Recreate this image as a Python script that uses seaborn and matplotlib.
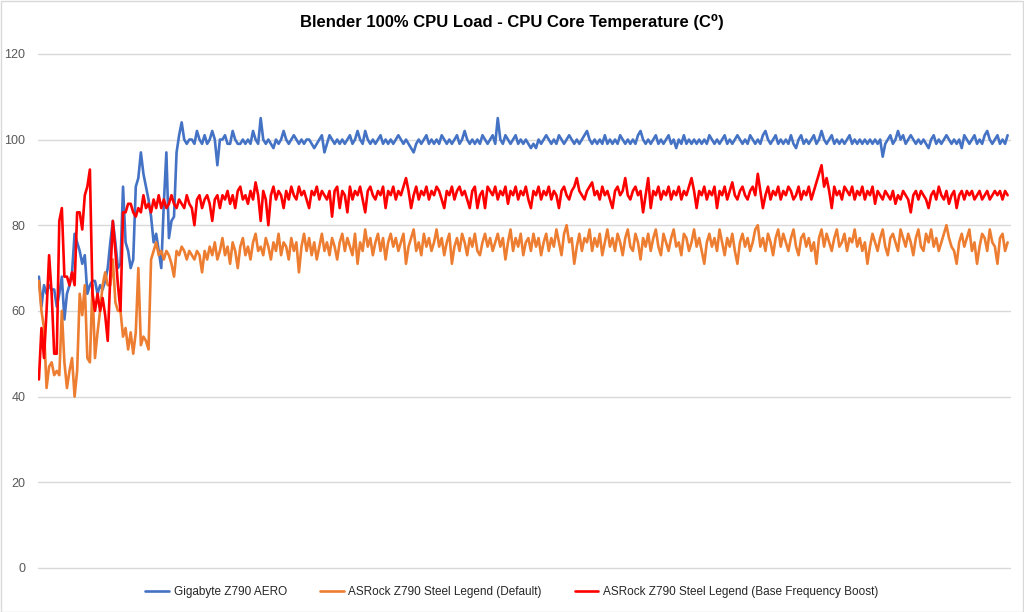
import numpy as np
import pandas as pd
import seaborn as sns
import matplotlib.pyplot as plt
from matplotlib.patches import Rectangle

# CPU core temperature readings (C), one per sample
gigabyte_aero = [
    68, 61, 66, 64, 66, 65, 65, 61, 64, 68,
    58, 64, 66, 69, 78, 76, 74, 71, 73, 64,
    66, 67, 67, 64, 66, 65, 67, 70, 76, 81,
    76, 70, 71, 89, 76, 74, 70, 72, 89, 91,
    97, 92, 89, 86, 82, 76, 78, 74, 70, 85,
    97, 77, 81, 82, 97, 101, 104, 100, 99, 100,
    100, 99, 102, 100, 99, 101, 99, 100, 102, 100, 94, 100, 100, 101, 99, 99, 102, 100, 99, 99,
    100, 99, 100, 99, 102, 100, 99, 105, 100, 99, 100, 99, 98, 100, 99, 100, 102, 100, 99, 100,
    101, 100, 99, 100, 99, 100, 100, 99, 98, 99, 100, 101, 97, 99, 101, 100, 99, 100, 99, 100,
    99, 100, 101, 99, 100, 102, 100, 99, 102, 100, 99, 100, 99, 100, 101, 99, 100, 99, 100, 99,
    100, 101, 100, 99, 100, 99, 98, 97, 99, 100, 99, 100, 101, 99, 100, 99, 100, 99, 101, 100,
    99, 100, 99, 100, 101, 99, 100, 102, 100, 99, 100, 99, 100, 99, 101, 100, 99, 100, 101, 99,
    105, 100, 99, 101, 100, 99, 100, 101, 99, 100, 99, 100, 99, 98, 99, 98, 100, 99, 100, 101,
    100, 99, 100, 99, 101, 100, 99, 100, 101, 100, 99, 100, 99, 100, 101, 102, 100, 99, 100, 99,
    100, 99, 101, 99, 100, 99, 100, 99, 101, 100, 99, 100, 99, 100, 99, 101, 102, 100, 99, 100,
    99, 100, 101, 99, 100, 99, 100, 101, 99, 100, 98, 100, 99, 101, 99, 100, 99, 100, 99, 100,
    99, 100, 99, 101, 100, 99, 100, 99, 100, 101, 99, 100, 99, 100, 101, 100, 99, 100, 99, 101,
    100, 99, 100, 99, 101, 102, 100, 99, 100, 101, 99, 100, 99, 100, 99, 101, 99, 98, 100, 101,
    99, 100, 99, 100, 101, 99, 100, 102, 100, 99, 100, 101, 99, 100, 99, 100, 99, 100, 101, 99,
    100, 99, 100, 99, 100, 99, 100, 99, 100, 99, 100, 96, 99, 100, 101, 99, 100, 102, 100, 101,
    99, 100, 101, 100, 99, 100, 99, 100, 99, 98, 100, 101, 99, 100, 99, 100, 101, 100, 99, 100,
    99, 100, 98, 101, 100, 99, 100, 101, 99, 100, 99, 101, 102, 100, 99, 100, 101, 99, 100, 99, 101,
]

asrock_default = [
    67, 60, 56, 42, 47, 48, 45, 46, 45, 60,
    48, 42, 46, 49, 40, 46, 64, 59, 66, 49,
    48, 66, 49, 55, 60, 66, 69, 66, 66, 72,
    62, 60, 60, 54, 56, 51, 55, 50, 55, 70,
    52, 54, 53, 51, 72, 74, 76, 73, 74, 72,
    74, 73, 71, 68, 74, 73, 75, 74, 72, 74,
    73, 72, 74, 73, 69, 74, 72, 75, 73, 76, 72, 74, 77, 73, 75, 71, 76, 74, 70, 75,
    77, 73, 75, 72, 76, 78, 74, 75, 73, 77, 75, 72, 76, 74, 78, 73, 76, 75, 72, 77,
    74, 76, 69, 75, 78, 74, 77, 73, 76, 72, 75, 78, 74, 76, 73, 77, 75, 72, 76, 78,
    74, 77, 75, 73, 78, 71, 76, 74, 79, 75, 77, 73, 76, 78, 74, 77, 72, 76, 78, 75,
    77, 74, 76, 78, 71, 75, 77, 79, 74, 76, 73, 78, 75, 77, 74, 76, 79, 75, 77, 73,
    76, 78, 71, 75, 77, 74, 78, 76, 73, 77, 75, 78, 74, 73, 76, 78, 75, 77, 74, 76,
    78, 75, 77, 72, 76, 79, 74, 77, 75, 78, 73, 76, 77, 74, 78, 75, 77, 73, 76, 78,
    74, 77, 75, 79, 76, 73, 78, 80, 76, 77, 71, 75, 78, 74, 77, 76, 79, 74, 77, 75,
    78, 73, 76, 79, 75, 77, 74, 78, 76, 73, 77, 79, 75, 74, 78, 76, 72, 77, 75, 78,
    74, 77, 79, 75, 73, 78, 76, 74, 77, 79, 75, 76, 73, 78, 77, 74, 76, 79, 75, 77,
    74, 71, 76, 78, 75, 77, 74, 79, 76, 73, 77, 75, 78, 74, 71, 76, 78, 75, 77, 74,
    76, 79, 80, 75, 77, 74, 78, 76, 73, 77, 79, 75, 78, 76, 74, 77, 79, 75, 73, 77,
    78, 75, 77, 74, 76, 71, 77, 79, 75, 78, 76, 74, 77, 79, 75, 76, 78, 74, 77, 76,
    79, 75, 77, 74, 76, 71, 75, 78, 76, 74, 77, 79, 75, 73, 77, 78, 76, 74, 79, 77,
    75, 78, 76, 73, 77, 79, 75, 74, 78, 76, 79, 75, 77, 74, 76, 78, 80, 77, 75, 74,
    71, 76, 78, 75, 77, 79, 74, 76, 71, 75, 78, 77, 74, 79, 76, 75, 71, 77, 78, 74, 76,
]

asrock_boost = [
    44, 56, 49, 60, 73, 64, 50, 50, 81, 84,
    68, 68, 66, 69, 66, 83, 83, 79, 87, 89,
    93, 64, 60, 64, 60, 63, 59, 53, 68, 81,
    74, 66, 60, 83, 83, 85, 85, 83, 82, 84,
    83, 87, 84, 85, 83, 86, 84, 87, 84, 86,
    84, 85, 87, 85, 84, 86, 85, 84, 87, 85,
    84, 80, 86, 87, 84, 86, 87, 85, 81, 86, 87, 84, 87, 86, 88, 85, 87, 84, 88, 89,
    86, 87, 85, 88, 86, 90, 87, 81, 88, 86, 80, 87, 89, 86, 88, 87, 84, 88, 86, 89,
    87, 86, 89, 87, 88, 86, 84, 88, 87, 89, 86, 88, 87, 86, 88, 82, 88, 89, 84, 88,
    87, 83, 89, 86, 88, 87, 89, 86, 83, 88, 89, 87, 86, 88, 87, 89, 84, 88, 87, 89,
    86, 88, 87, 89, 91, 88, 84, 87, 89, 86, 88, 87, 89, 86, 88, 87, 89, 88, 86, 84,
    88, 87, 89, 86, 88, 89, 87, 88, 86, 84, 88, 89, 84, 87, 88, 84, 89, 88, 87, 89,
    86, 88, 87, 89, 85, 88, 87, 89, 86, 88, 87, 89, 86, 84, 88, 87, 89, 86, 88, 87,
    89, 86, 88, 87, 84, 88, 89, 87, 86, 88, 89, 91, 88, 87, 86, 88, 89, 90, 87, 88,
    86, 89, 87, 88, 86, 84, 88, 89, 87, 88, 91, 87, 86, 88, 89, 87, 88, 83, 87, 91,
    84, 88, 87, 89, 86, 88, 87, 89, 86, 88, 87, 89, 86, 88, 87, 89, 91, 88, 84, 88,
    87, 89, 86, 88, 87, 89, 84, 88, 87, 89, 86, 88, 90, 87, 86, 88, 89, 87, 86, 88,
    89, 87, 92, 88, 84, 87, 89, 86, 88, 87, 89, 86, 88, 87, 89, 88, 86, 87, 89, 86,
    88, 87, 89, 86, 88, 90, 92, 94, 89, 91, 88, 84, 89, 87, 88, 86, 89, 88, 87, 89,
    86, 88, 87, 89, 86, 88, 87, 89, 85, 88, 87, 86, 88, 87, 86, 88, 85, 87, 86, 88,
    87, 86, 83, 87, 88, 86, 88, 87, 86, 84, 87, 88, 86, 89, 87, 86, 88, 85, 87, 88,
    84, 87, 88, 86, 88, 87, 88, 86, 87, 88, 86, 87, 88, 86, 87, 88, 87, 88, 86, 88, 87,
]

series_names = ["Gigabyte Z790 AERO",
                "ASRock Z790 Steel Legend (Default)",
                "ASRock Z790 Steel Legend (Base Frequency Boost)"]
series_values = [gigabyte_aero, asrock_default, asrock_boost]
colors = ["#4472C4", "#ED7D31", "#FF0000"]
y_ticks = [0, 20, 40, 60, 80, 100, 120]

sns.set_style("white")
plt.rcParams['font.family'] = ['Liberation Sans', 'DejaVu Sans']

fig = plt.figure(figsize=(10.24, 6.12), dpi=100)
ax = fig.add_axes([0.037, 0.072, 0.949, 0.840])

n_max = max(len(v) for v in series_values)
for name, vals, c in zip(series_names, series_values, colors):
    sns.lineplot(x=np.arange(len(vals)), y=vals, ax=ax, color=c, linewidth=1.9, label=name)

ax.set_xlim(-0.4, n_max - 1 + 0.8)
ax.set_ylim(0, 120)
ax.set_yticks(y_ticks)
ax.set_xticks([])
ax.set_xlabel("")
ax.set_ylabel("")
ax.yaxis.grid(True, color="#d9d9d9", linewidth=1)
for gl in ax.get_ygridlines():
    gl.set_clip_on(False)
ax.set_axisbelow(True)
for s in ax.spines.values():
    s.set_visible(False)
ax.tick_params(axis="y", length=0, pad=9, labelsize=9, labelcolor="#595959")

ax.legend_.remove()
handles, labels = ax.get_legend_handles_labels()
fig.legend(handles, labels, loc="center", bbox_to_anchor=(0.5, 0.033), ncol=3,
           frameon=False, fontsize=8.5, handlelength=2.0, columnspacing=2.8,
           handletextpad=0.4)

fig.text(0.5, 0.964, "Blender 100% CPU Load - CPU Core Temperature (C\u2070)",
         ha="center", va="center", fontsize=12, fontweight="bold", color="#000000")

fig.patches.append(Rectangle((0.0005, 0.0008), 0.999, 0.998, transform=fig.transFigure,
                             fill=False, edgecolor="#d9d9d9", linewidth=1))

fig.savefig("out.png", dpi=100)
